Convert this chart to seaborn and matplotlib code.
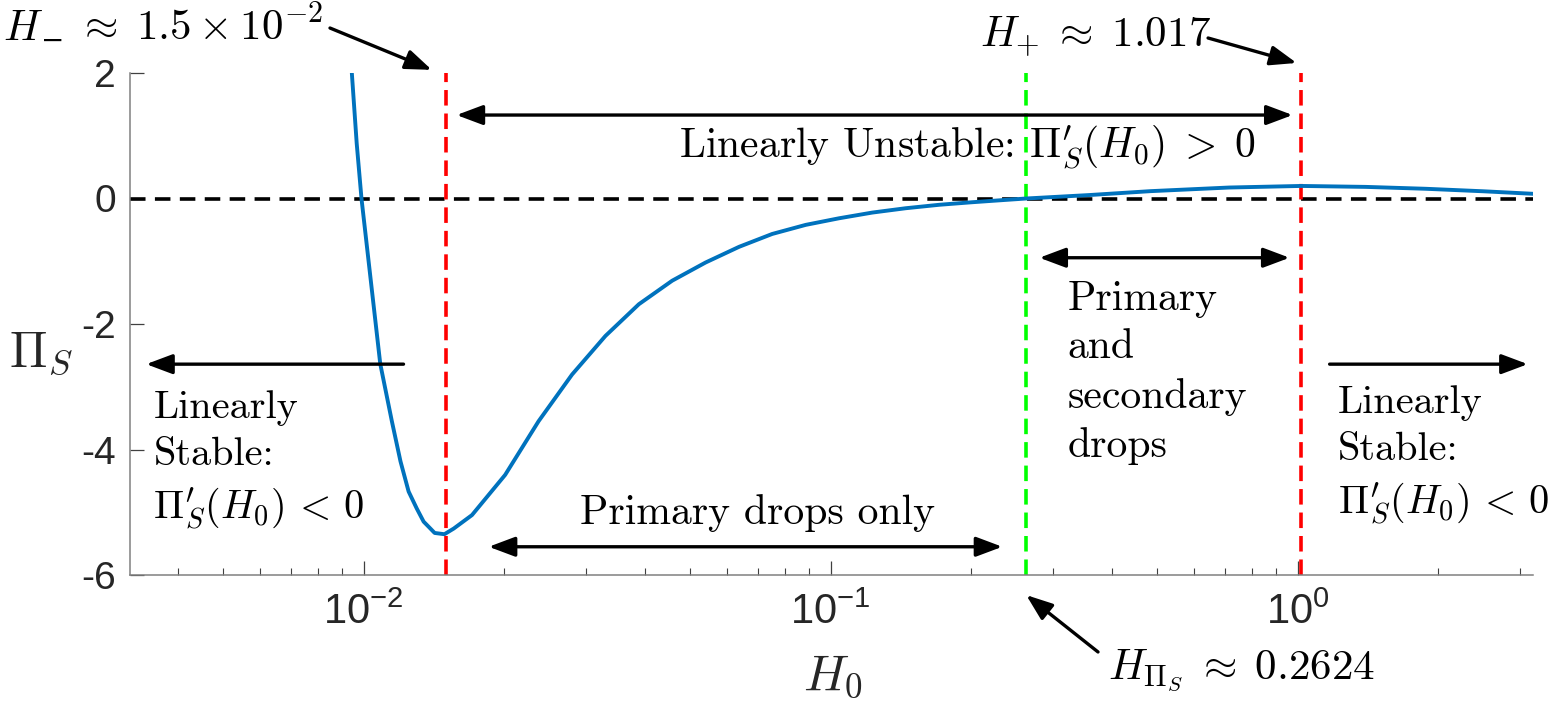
import numpy as np
import pandas as pd
import seaborn as sns
import matplotlib.pyplot as plt
from matplotlib.ticker import NullFormatter

# curva Pi_S(H0)
H0 = [0.00944, 0.00967, 0.0099, 0.01025, 0.01086, 0.0115, 0.0120, 0.01249, 0.0130, 0.01345,
      0.01378, 0.0142, 0.0149, 0.0156, 0.01707, 0.0201, 0.0237, 0.02796, 0.03296, 0.03886,
      0.0458, 0.054, 0.0637, 0.0750, 0.0885, 0.1043, 0.1229, 0.1449, 0.1709, 0.2014,
      0.2374, 0.2624, 0.358, 0.484, 0.714, 1.017, 1.4, 1.88, 2.5, 3.19]
PI_S = [2.0, 0.875, 0.0, -0.99, -2.635, -3.55, -4.19, -4.67, -4.94, -5.15,
        -5.23, -5.33, -5.35, -5.26, -5.045, -4.405, -3.55, -2.805, -2.19, -1.685,
        -1.31, -1.02, -0.77, -0.565, -0.42, -0.315, -0.224, -0.155, -0.10, -0.059,
        -0.022, 0.0, 0.055, 0.117, 0.175, 0.20, 0.185, 0.155, 0.115, 0.075]

# limites de estabilidade
H_MINUS = 0.015
H_PLUS = 1.017
H_PIS = 0.2624

df = pd.DataFrame({'H0': H0, 'PiS': PI_S})

sns.set_style('ticks')
plt.rcParams['font.family'] = ['Liberation Sans', 'DejaVu Sans']
plt.rcParams['mathtext.fontset'] = 'custom'
plt.rcParams['mathtext.rm'] = 'Liberation Sans'
plt.rcParams['mathtext.it'] = 'Liberation Sans:italic'
plt.rcParams['mathtext.bf'] = 'Liberation Sans:bold'
plt.rcParams['axes.unicode_minus'] = False

AXC = '#262626'
fig = plt.figure(figsize=(15.5, 7.13), dpi=100)
ax = fig.add_axes([130 / 1550, 138 / 713, 1403 / 1550, 502 / 713])

ax.axhline(0, color='k', lw=2.6, ls=(0, (4.3, 2.6)), zorder=1)
for h, c in [(H_MINUS, '#FF0000'), (H_PIS, '#00FF00'), (H_PLUS, '#FF0000')]:
    ax.axvline(h, color=c, lw=2.6, ls=(0, (4.3, 2.2)), zorder=1)

sns.lineplot(data=df, x='H0', y='PiS', ax=ax, color='#0072BD', lw=2.8, zorder=3)

ax.set_xscale('log')
ax.set_xlim(10 ** -2.5, 10 ** 0.504)
ax.set_ylim(-6, 2)
ax.set_yticks([-6, -4, -2, 0, 2])
ax.xaxis.set_minor_formatter(NullFormatter())
ax.set_xlabel('')
ax.set_ylabel('')
sns.despine(ax=ax)
for s in ['left', 'bottom']:
    ax.spines[s].set_color('#808080')
    ax.spines[s].set_linewidth(1.1)
ax.tick_params(which='both', direction='in', color='#404040', labelcolor=AXC)
ax.tick_params(which='major', length=10, width=0.9)
ax.tick_params(which='minor', length=5, width=0.8)
ax.tick_params(axis='y', pad=10, labelsize=28)
ax.tick_params(axis='x', pad=13, labelsize=30)

TXT = dict(family='cmr10', fontsize=30, math_fontfamily='cm', color='k')
AR = '-|>,head_length=0.8,head_width=0.3'
AR2 = '<|-|>,head_length=0.8,head_width=0.3'


def seta(p0, p1, estilo=AR, coords='data'):
    ax.annotate('', xy=p1, xytext=p0, xycoords='data', textcoords=coords,
                annotation_clip=False,
                arrowprops=dict(arrowstyle=estilo, color='k', lw=2.4,
                                shrinkA=0, shrinkB=0, mutation_scale=20))


# região instável
seta((0.01582, 1.33), (0.9757, 1.33), AR2)
ax.text(0.196, 0.8, r"Linearly Unstable: $\Pi_S^{\prime}(H_0)\;>\;0$", ha='center', va='center', **TXT)

# gotas primárias e secundárias
seta((0.280, -0.944), (0.961, -0.944), AR2)
ax.text(0.3214, -1.30, 'Primary\nand\nsecondary\ndrops', ha='left', va='top', linespacing=1.38, **TXT)

# só gotas primárias
seta((0.01854, -5.55), (0.2332, -5.55), AR2)
ax.text(0.0696, -5.02, 'Primary drops only', ha='center', va='center', **TXT)

# regiões estáveis
ESTAVEL = "Linearly\nStable:\n$\\Pi_S^{\\prime}(H_0)\\,<\\,0$"
TXT3 = dict(TXT, fontsize=29)
seta((0.01218, -2.64), (0.003425, -2.64))
seta((1.171, -2.64), (3.11, -2.64))
ax.text(0.003547, -3.05, ESTAVEL, ha='left', va='top', linespacing=1.4, **TXT3)
ax.text(1.218, -2.97, ESTAVEL, ha='left', va='top', linespacing=1.4, **TXT3)

# anotações dos pontos críticos
TXT2 = dict(TXT, fontsize=31)
# H_- em três pedaços: o menos do subscrito some no mathtext
fig.text(0.002, 0.9439, r'$H$', ha='left', va='baseline', **TXT2)
fig.text(53 / 1550, 0.9313, '\u2212', ha='center', va='baseline', fontsize=20, family='DejaVu Sans', color='k')
fig.text(77 / 1550, 0.9439, r'$\approx\;1.5\times10^{-2}$', ha='left', va='baseline', **TXT2)
seta((0.2129, 0.9607), (0.0140, 2.05), coords='figure fraction')
fig.text(0.632, 0.934, r'$H_{+}\;\approx\;1.017$', ha='left', va='baseline', **TXT2)
seta((0.7794, 0.9467), (0.995, 2.16), coords='figure fraction')
fig.text(0.7148, 0.0463, r'$H_{\Pi_S}\;\approx\;0.2624$', ha='left', va='baseline', **TXT2)
seta((0.7084, 0.0856), (0.2624, -6.32), coords='figure fraction')

# rótulos dos eixos
fig.text(0.006, 0.4853, r'$\Pi_S$', ha='left', va='baseline', fontsize=36, math_fontfamily='cm')
fig.text(0.518, 0.0323, r'$H_0$', ha='left', va='baseline', fontsize=36, math_fontfamily='cm')

fig.savefig('out.png', dpi=100, facecolor='white')
